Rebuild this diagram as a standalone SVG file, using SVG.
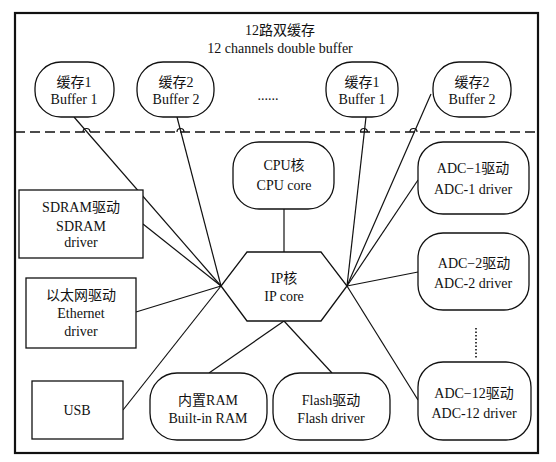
<svg xmlns="http://www.w3.org/2000/svg" width="556" height="462" viewBox="0 0 556 462">
<style>
text{font-family:"Liberation Serif","Noto Sans CJK SC",serif;font-size:14px;fill:#111;text-anchor:middle}
.n{fill:#fff;stroke:#111;stroke-width:1.3}
.c{fill:none;stroke:#111;stroke-width:1.2}
</style>
<rect x="0" y="0" width="556" height="462" fill="#fff"/>
<rect x="15" y="13" width="523" height="440" fill="none" stroke="#111" stroke-width="2.2"/>
<text x="280" y="35">12路双缓存</text>
<text x="280" y="53">12 channels double buffer</text>
<line x1="15" y1="132" x2="538" y2="132" stroke="#111" stroke-width="1.3" stroke-dasharray="10,5"/>
<text x="268" y="100">......</text>
<line x1="476" y1="328" x2="476" y2="358" stroke="#111" stroke-width="1.6" stroke-dasharray="1.5,2"/>
<g id="connectors" class="c">
<line x1="74" y1="117" x2="221" y2="286"/>
<line x1="177" y1="117" x2="221" y2="286"/>
<line x1="143" y1="224" x2="221" y2="286"/>
<line x1="136" y1="312" x2="221" y2="286"/>
<line x1="123" y1="410" x2="221" y2="286"/>
<line x1="366" y1="117" x2="347" y2="286"/>
<line x1="431" y1="94" x2="347" y2="286"/>
<line x1="418" y1="180" x2="347" y2="286"/>
<line x1="418" y1="272" x2="347" y2="286"/>
<line x1="418" y1="400" x2="347" y2="286"/>
<line x1="284" y1="209" x2="284" y2="252"/>
<line x1="284" y1="321" x2="209" y2="373"/>
<line x1="284" y1="321" x2="332" y2="373"/>
<path d="M83 132a3.5 3.5 0 0 1 7 0M177 132a3.5 3.5 0 0 1 7 0M360.5 132a3.5 3.5 0 0 1 7 0M410 132a3.5 3.5 0 0 1 7 0"/>
</g>
<g id="buf1a"><rect class="n" x="35" y="62" width="79" height="55" rx="26"/><text x="74" y="87">缓存1</text><text x="74" y="104">Buffer 1</text></g>
<g id="buf2a"><rect class="n" x="137" y="62" width="77" height="55" rx="26"/><text x="176" y="87">缓存2</text><text x="176" y="104">Buffer 2</text></g>
<g id="buf1b"><rect class="n" x="326" y="62" width="72" height="55" rx="26"/><text x="362" y="87">缓存1</text><text x="362" y="104">Buffer 1</text></g>
<g id="buf2b"><rect class="n" x="433" y="62" width="78" height="55" rx="26"/><text x="472" y="87">缓存2</text><text x="472" y="104">Buffer 2</text></g>
<g id="cpu"><rect class="n" x="233" y="142" width="101" height="67" rx="26"/><text x="284" y="170">CPU核</text><text x="284" y="190">CPU core</text></g>
<g id="ip"><polygon class="n" points="247,252 321,252 347,286 321,321 247,321 221,286"/><text x="284" y="283">IP核</text><text x="284" y="301">IP core</text></g>
<g id="sdram"><rect class="n" x="19" y="190" width="124" height="68"/><text x="81" y="212">SDRAM驱动</text><text x="81" y="231">SDRAM</text><text x="81" y="247">driver</text></g>
<g id="eth"><rect class="n" x="26" y="278" width="110" height="70"/><text x="81" y="300">以太网驱动</text><text x="81" y="318">Ethernet</text><text x="81" y="336">driver</text></g>
<g id="usb"><rect class="n" x="32" y="381" width="91" height="58"/><text x="77" y="415">USB</text></g>
<g id="ram"><rect class="n" x="150" y="373" width="117" height="67" rx="27"/><text x="208" y="405">内置RAM</text><text x="208" y="423">Built-in RAM</text></g>
<g id="flash"><rect class="n" x="273" y="373" width="117" height="67" rx="27"/><text x="331" y="405">Flash驱动</text><text x="331" y="423">Flash driver</text></g>
<g id="adc1"><rect class="n" x="418" y="142" width="111" height="72" rx="25"/><text x="473" y="173">ADC−1驱动</text><text x="473" y="194">ADC-1 driver</text></g>
<g id="adc2"><rect class="n" x="418" y="233" width="111" height="77" rx="25"/><text x="474" y="268">ADC−2驱动</text><text x="473" y="288">ADC-2 driver</text></g>
<g id="adc12"><rect class="n" x="418" y="362" width="113" height="78" rx="25"/><text x="474" y="398">ADC−12驱动</text><text x="474" y="418">ADC-12 driver</text></g>
</svg>
